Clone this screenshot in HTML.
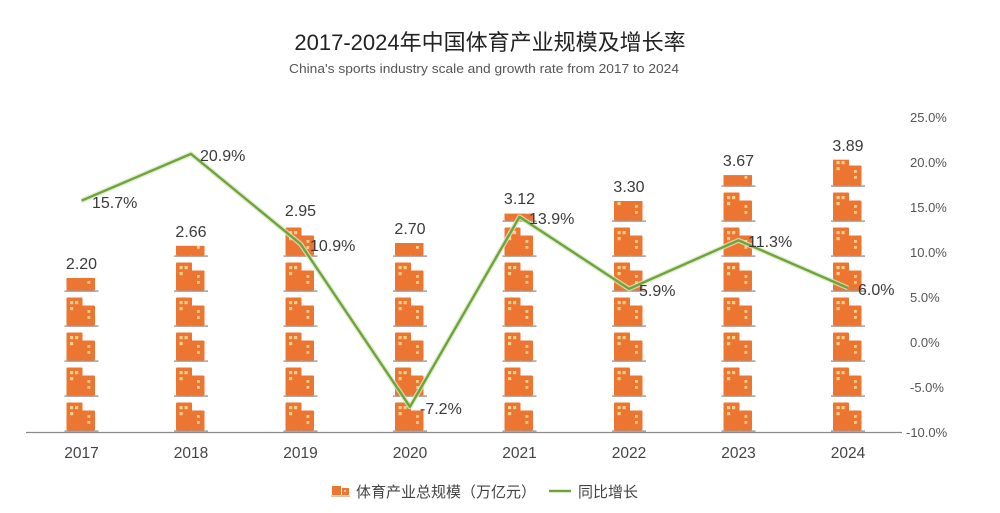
<!DOCTYPE html>
<html>
<head>
<meta charset="utf-8">
<style>
  html, body { margin: 0; padding: 0; background: #ffffff; }
  svg { display: block; }
  text { font-family: "Liberation Sans", "Noto Sans CJK SC", sans-serif; }
</style>
</head>
<body>
<svg width="1000" height="513" viewBox="0 0 1000 513" xmlns="http://www.w3.org/2000/svg">
  <defs>
    <pattern id="bld" patternUnits="userSpaceOnUse" x="0" y="12" width="36" height="35">
      <rect x="3" y="5.5" width="16" height="28" rx="1" fill="#EC7532"/>
      <rect x="18.5" y="13.5" width="13" height="20" rx="1" fill="#EC7532"/>
      <rect x="6.5" y="9" width="3.2" height="3.2" fill="#F8CF86"/>
      <rect x="11.5" y="9" width="3.2" height="3.2" fill="#F8CF86"/>
      <rect x="6.5" y="15" width="3.2" height="3.2" fill="#F8CF86"/>
      <rect x="24" y="18" width="2.8" height="2.8" fill="#F8CF86"/>
      <rect x="24" y="24" width="2.8" height="2.8" fill="#F8CF86"/>
      <rect x="1" y="33.4" width="34" height="1.4" fill="#A8938A"/>
    </pattern>
  </defs>

  <rect width="1000" height="513" fill="#ffffff"/>

  <!-- Title -->
  <text x="490" y="50" text-anchor="middle" font-size="22" fill="#222">2017-2024年中国体育产业规模及增长率</text>
  <text x="484" y="73" text-anchor="middle" font-size="13" fill="#555" font-family="Liberation Sans, sans-serif" textLength="390" lengthAdjust="spacingAndGlyphs">China's sports industry scale and growth rate from 2017 to 2024</text>

  <!-- Right axis labels -->
  <g font-size="13" fill="#555">
    <text x="910" y="122">25.0%</text>
    <text x="910" y="167">20.0%</text>
    <text x="910" y="212">15.0%</text>
    <text x="910" y="257">10.0%</text>
    <text x="910" y="302">5.0%</text>
    <text x="910" y="347">0.0%</text>
    <text x="910" y="392">-5.0%</text>
    <text x="906" y="437">-10.0%</text>
  </g>

  <!-- Bars (pictorial) -->
  <g transform="translate(63.5,0)"><rect x="0" y="278" width="36" height="154" fill="url(#bld)"/></g>
  <g transform="translate(173,0)"><rect x="0" y="245.8" width="36" height="186.2" fill="url(#bld)"/></g>
  <g transform="translate(282.5,0)"><rect x="0" y="225.5" width="36" height="206.5" fill="url(#bld)"/></g>
  <g transform="translate(392,0)"><rect x="0" y="243" width="36" height="189" fill="url(#bld)"/></g>
  <g transform="translate(501.5,0)"><rect x="0" y="213.6" width="36" height="218.4" fill="url(#bld)"/></g>
  <g transform="translate(611,0)"><rect x="0" y="201" width="36" height="231" fill="url(#bld)"/></g>
  <g transform="translate(720.5,0)"><rect x="0" y="175.1" width="36" height="256.9" fill="url(#bld)"/></g>
  <g transform="translate(830,0)"><rect x="0" y="159.7" width="36" height="272.3" fill="url(#bld)"/></g>

  <!-- Baseline -->
  <line x1="26" y1="432.5" x2="902" y2="432.5" stroke="#8a8a8a" stroke-width="1.2"/>

  <!-- Value labels -->
  <g font-size="16" fill="#3a3a3a" text-anchor="middle">
    <text x="81.5" y="269">2.20</text>
    <text x="191" y="237">2.66</text>
    <text x="300.5" y="216">2.95</text>
    <text x="410" y="234">2.70</text>
    <text x="519.5" y="204">3.12</text>
    <text x="629" y="192">3.30</text>
    <text x="738.5" y="166">3.67</text>
    <text x="848" y="151">3.89</text>
  </g>

  <!-- Growth line -->
  <polyline points="81.5,200.7 191,153.9 300.5,243.9 410,406.8 519.5,216.9 629,288.9 738.5,240.3 848,288"
            fill="none" stroke="#D6E8C2" stroke-width="5" stroke-linejoin="round" opacity="0.8"/>
  <polyline points="81.5,200.7 191,153.9 300.5,243.9 410,406.8 519.5,216.9 629,288.9 738.5,240.3 848,288"
            fill="none" stroke="#6FA33C" stroke-width="2.4" stroke-linejoin="round"/>

  <!-- Percent labels -->
  <g font-size="16" fill="#3a3a3a">
    <text x="92" y="208">15.7%</text>
    <text x="200" y="161">20.9%</text>
    <text x="310" y="251">10.9%</text>
    <text x="420" y="414">-7.2%</text>
    <text x="529" y="224">13.9%</text>
    <text x="639" y="296">5.9%</text>
    <text x="748" y="247">11.3%</text>
    <text x="858" y="295">6.0%</text>
  </g>

  <!-- X labels -->
  <g font-size="15.5" fill="#444" text-anchor="middle">
    <text x="81.5" y="458">2017</text>
    <text x="191" y="458">2018</text>
    <text x="300.5" y="458">2019</text>
    <text x="410" y="458">2020</text>
    <text x="519.5" y="458">2021</text>
    <text x="629" y="458">2022</text>
    <text x="738.5" y="458">2023</text>
    <text x="848" y="458">2024</text>
  </g>

  <!-- Legend -->
  <g>
    <rect x="332" y="486" width="9" height="9" fill="#EC7532"/>
    <rect x="342" y="488" width="7" height="7" fill="#EC7532"/>
    <rect x="344" y="490" width="2" height="2" fill="#F8CF86"/>
    <rect x="331" y="495.5" width="19" height="1.2" fill="#C9A58A"/>
    <text x="356" y="497" font-size="15" fill="#444">体育产业总规模（万亿元）</text>
    <line x1="549" y1="491" x2="571" y2="491" stroke="#6FA33C" stroke-width="2.4"/>
    <text x="578" y="497" font-size="15" fill="#444">同比增长</text>
  </g>
</svg>
</body>
</html>
